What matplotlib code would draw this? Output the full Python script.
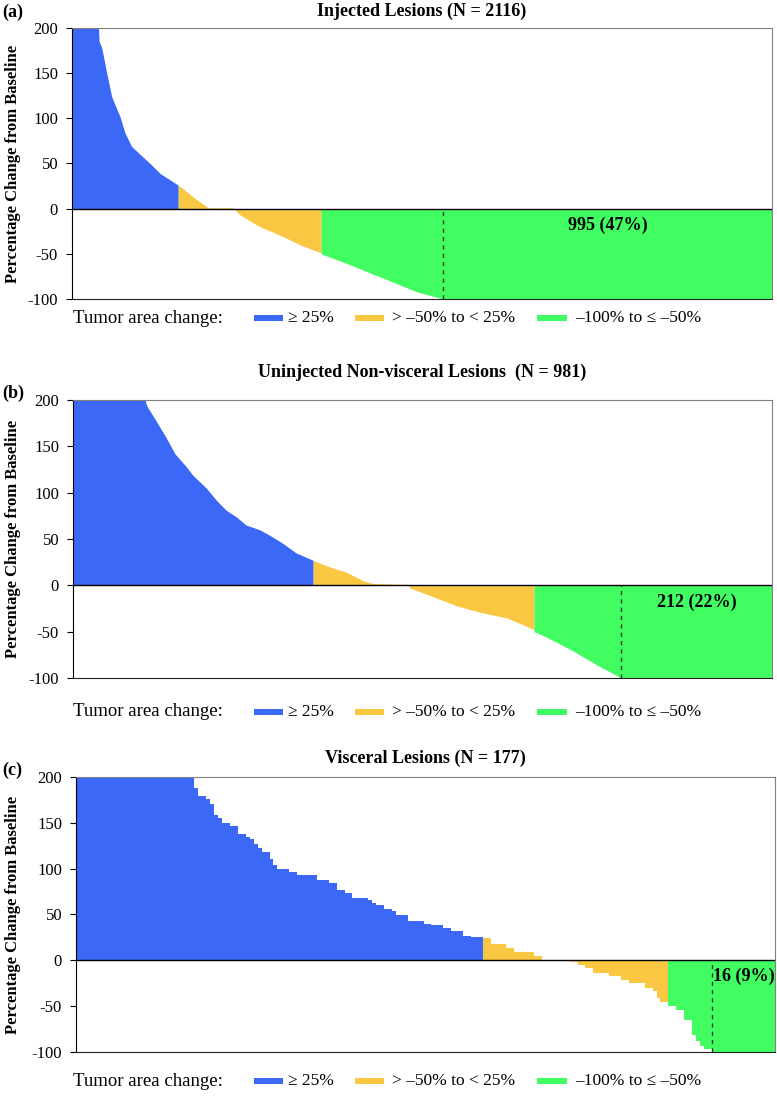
import numpy as np
import matplotlib
matplotlib.use("Agg")
import matplotlib.pyplot as plt
from matplotlib.patches import Rectangle

plt.rcParams['font.family'] = ['Liberation Serif', 'DejaVu Serif']
plt.rcParams['axes.unicode_minus'] = False

BLUE = '#3B68F6'
YELLOW = '#FAC743'
GREEN = '#42FD62'

W, H = 777, 1097

# (a) injected lesions: outline of the sorted waterfall (lesion rank, % change)
a_rank = [0, 80, 82, 90, 105, 120, 130, 145, 160, 180, 206, 236, 266, 296, 321,
          321, 346, 377, 412, 487, 508, 568, 639, 689, 753,
          753, 840, 941, 1042, 1122, 2116]
a_pct = [200, 200, 185, 178, 150, 124, 115, 102, 84, 69, 60, 50, 39, 32, 26,
         26, 19, 10, 1, 1, -7, -20, -31, -40, -49,
         -50, -62, -77, -92, -100, -100]
a_bounds = (321, 753)
a_n = 2116
a_cr, a_cr_pct = 995, 47

# (b) uninjected non-visceral lesions
b_rank = [0, 101, 104, 117, 131, 143, 159, 168, 187, 201, 215, 229, 243, 262, 276, 295, 313, 337,
          337, 356, 384, 407, 421, 470, 473, 501, 538, 571, 608, 630, 647,
          647, 662, 680, 700, 720, 740, 760, 769, 981]
b_pct = [200, 200, 193, 177, 159, 142, 128, 119, 105, 92, 81, 74, 65, 60, 54, 45, 35, 27,
         27, 21, 14, 5, 2, 1, -3, -11, -22, -29, -35, -42, -48,
         -50, -55, -62, -70, -79, -88, -96, -100, -100]
b_bounds = (337, 647)
b_n = 981
b_cr, b_cr_pct = 212, 22

# (c) visceral lesions: runs of lesions (edges) and their % change
c_edges = [0, 30, 31, 33, 34, 35, 36, 37, 39, 41, 43, 44, 45, 46, 47, 49, 50, 51, 54, 56,
           61, 64, 66, 68, 70, 74, 75, 76, 78, 80, 81, 84, 88, 90, 93, 95, 98, 100, 103,
           105, 109, 111, 116, 118, 125, 127, 129, 131, 135, 138, 140, 144, 146, 147, 148,
           150, 152, 154, 156, 157, 158, 159, 161, 177]
c_pct = [200, 188, 179, 176, 171, 159, 155, 150, 146, 138, 135, 132, 127, 123, 118, 110,
         104, 100, 96, 93, 88, 84, 77, 73, 68, 66, 62, 60, 56, 54, 49, 43, 40, 38, 35, 32,
         27, 25, 24, 18, 13.5, 9, 4.5, 0, -2, -5, -8, -13.5, -17.5, -21, -25, -30, -34,
         -41, -46, -50, -54, -65, -81, -88, -93, -97, -100]
c_n = 177
c_cr, c_cr_pct = 16, 9

titles = ['Injected Lesions (N = 2116)',
          'Uninjected Non-visceral Lesions  (N = 981)',
          'Visceral Lesions (N = 177)']
panel_tags = ['(a)', '(b)', '(c)']
legend_labels = ['\u2265 25%', '> \u201350% to < 25%', '\u2013100% to \u2264 \u201350%']

# axes boxes in pixels: left, top, right, bottom
boxes = [(72, 28, 772, 299), (73, 400, 772, 678), (76, 777, 775, 1052)]
title_y = [11, 372, 758]
tag_y = [12, 393, 770]
legend_y = [318, 712, 1081]


def fx(x):
    return x / W


def fy(y):
    return 1 - y / H


def color_for(v):
    if v >= 25:
        return BLUE
    if v > -50:
        return YELLOW
    return GREEN


def draw_outline(ax, rank, pct, bounds, n):
    rank = np.array(rank)
    pct = np.array(pct)
    edges = [0, bounds[0], bounds[1], n]
    for lo, hi, col in zip(edges[:-1], edges[1:], [BLUE, YELLOW, GREEN]):
        m = (rank >= lo) & (rank <= hi)
        ax.fill_between(rank[m], pct[m], 0, color=col, lw=0)


fig = plt.figure(figsize=(W / 100, H / 100), dpi=100)

panels = [
    (a_n, a_cr, a_cr_pct),
    (b_n, b_cr, b_cr_pct),
    (c_n, c_cr, c_cr_pct),
]

for i, (n, cr, cr_pct) in enumerate(panels):
    l, t, r, b = boxes[i]
    ax = fig.add_axes([fx(l), fy(b), (r - l) / W, (b - t) / H])

    if i == 0:
        draw_outline(ax, a_rank, a_pct, a_bounds, n)
    elif i == 1:
        draw_outline(ax, b_rank, b_pct, b_bounds, n)
    else:
        e = np.array(c_edges)
        cols = [color_for(v) for v in c_pct]
        ax.bar(e[:-1], c_pct, width=np.diff(e), align='edge', color=cols,
               edgecolor='none', linewidth=0, antialiased=False)

    ax.set_xlim(0, n)
    ax.set_ylim(-100, 200)
    ax.set_yticks([-100, -50, 0, 50, 100, 150, 200])
    ax.set_xticks([])
    ax.tick_params(axis='y', labelsize=12, length=4, width=0.8, pad=6)
    ax.axhline(0, color='black', lw=1)
    for s in ['top', 'right']:
        ax.spines[s].set_color('#808080')
    ax.spines['left'].set_color('black')
    ax.spines['bottom'].set_color('#222222')

    start = n - cr
    ax.vlines(start, -100, 0, colors='#1f3f1f', linestyles=(0, (3, 3)), lw=1)
    ax.text((start + n) / 2, -18, f'{cr} ({cr_pct}%)', ha='center', va='center',
            fontsize=13, fontweight='bold')

    ax.set_ylabel('Percentage Change from Baseline', fontsize=12, fontweight='bold',
                  va='center')
    ax.yaxis.set_label_coords((13 - l) / (r - l), 0.5)

    fig.text(fx((l + r) / 2), fy(title_y[i]), titles[i], ha='center', va='center',
             fontsize=13, fontweight='bold')
    fig.text(fx(2), fy(tag_y[i]), panel_tags[i], ha='left', va='center',
             fontsize=13, fontweight='bold')

    # legend row
    ly = legend_y[i]
    fig.text(fx(73), fy(ly), 'Tumor area change:', ha='left', va='center', fontsize=13.5)
    for px0, px1, tx, col, lab in [(254, 283, 288, BLUE, legend_labels[0]),
                                   (355, 384, 392, YELLOW, legend_labels[1]),
                                   (537, 567, 575, GREEN, legend_labels[2])]:
        fig.add_artist(Rectangle((fx(px0), fy(ly + 3)), (px1 - px0) / W, 6 / H,
                                 transform=fig.transFigure, color=col, lw=0))
        fig.text(fx(tx), fy(ly), lab, ha='left', va='center', fontsize=12.5)

fig.savefig('out.png', dpi=100)
